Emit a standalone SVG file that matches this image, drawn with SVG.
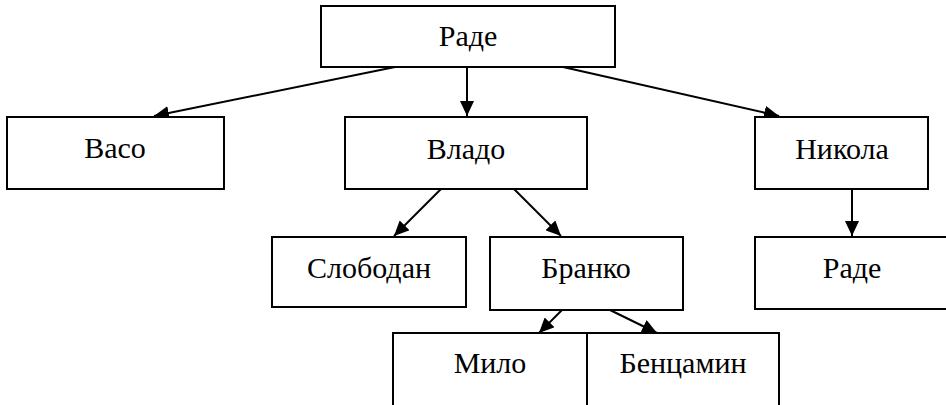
<svg xmlns="http://www.w3.org/2000/svg" width="946" height="405" viewBox="0 0 946 405">
<style>
.box{fill:#fff;stroke:#000;stroke-width:2}
.lbl{font-family:"Liberation Serif","Times New Roman",serif;font-size:30px;fill:#000;text-anchor:middle}
.edge{stroke:#000;stroke-width:2;fill:none;marker-end:url(#ah)}
</style>
<defs>
<marker id="ah" markerUnits="userSpaceOnUse" markerWidth="16" markerHeight="14" refX="15" refY="7" orient="auto">
<path d="M0,0 L15,7 L0,14 z" fill="#000"/>
</marker>
</defs>
<g id="connectors">
<line class="edge" x1="395" y1="67" x2="154" y2="116"/>
<line class="edge" x1="467" y1="67" x2="467" y2="116"/>
<line class="edge" x1="563" y1="67" x2="779" y2="116"/>
<line class="edge" x1="441" y1="189" x2="394" y2="236"/>
<line class="edge" x1="514" y1="189" x2="561" y2="236"/>
<line class="edge" x1="852" y1="189" x2="852" y2="236"/>
<line class="edge" x1="562" y1="310" x2="539" y2="333"/>
<line class="edge" x1="610" y1="310" x2="657" y2="333"/>
</g>
<g id="n-rade"><rect class="box" x="321" y="6" width="294" height="61"/><text class="lbl" x="468" y="46">Раде</text></g>
<g id="n-vaso"><rect class="box" x="7" y="117" width="217" height="72"/><text class="lbl" x="115" y="158">Васо</text></g>
<g id="n-vlado"><rect class="box" x="345" y="117" width="242" height="72"/><text class="lbl" x="466" y="159">Владо</text></g>
<g id="n-nikola"><rect class="box" x="755" y="117" width="173" height="72"/><text class="lbl" x="842" y="159">Никола</text></g>
<g id="n-slobodan"><rect class="box" x="272" y="237" width="194" height="70"/><text class="lbl" x="369" y="278">Слободан</text></g>
<g id="n-branko"><rect class="box" x="490" y="237" width="193" height="73"/><text class="lbl" x="586" y="278">Бранко</text></g>
<g id="n-rade2"><rect class="box" x="755" y="237" width="194" height="72"/><text class="lbl" x="852" y="278">Раде</text></g>
<g id="n-milo"><rect class="box" x="393" y="333" width="194" height="80"/><text class="lbl" x="490" y="373">Мило</text></g>
<g id="n-bencamin"><rect class="box" x="587" y="333" width="192" height="80"/><text class="lbl" x="683" y="373">Бенцамин</text></g>
</svg>
